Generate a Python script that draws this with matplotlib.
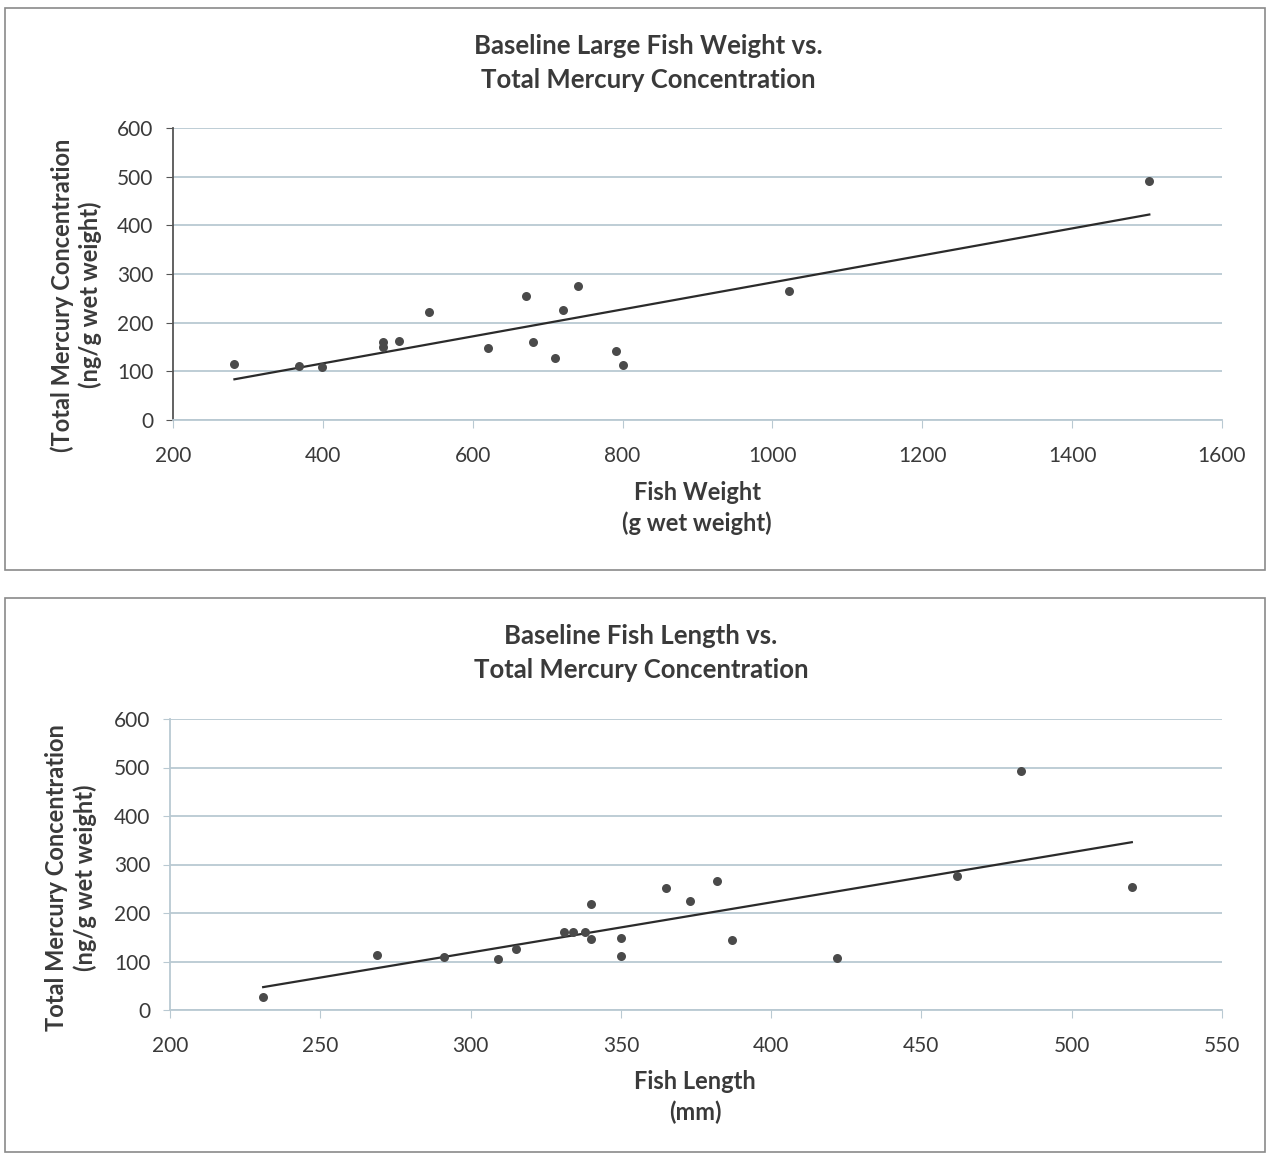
import matplotlib
matplotlib.use("Agg")
import matplotlib.pyplot as plt
import numpy as np
from matplotlib.patches import Rectangle

# Baseline large fish: weight (g) vs total mercury (ng/g wet weight)
weight_g = [282, 368, 399, 480, 480, 502, 542, 621, 671, 681, 710, 720, 741, 791, 801, 1022, 1503]
weight_hg = [115, 110, 108, 161, 150, 162, 221, 148, 254, 161, 127, 226, 275, 142, 113, 265, 492]

# Baseline fish: length (mm) vs total mercury
length_mm = [231, 269, 291, 309, 315, 331, 334, 338, 340, 340, 350, 350, 365, 373, 382, 387, 422, 462, 483, 520]
length_hg = [26, 114, 110, 106, 126, 160, 160, 160, 219, 146, 148, 112, 251, 224, 265, 145, 108, 276, 493, 254]

W, H = 1269, 1158
plt.rcParams['font.family'] = ['Lato', 'DejaVu Sans']
txt = '#3a3a3a'
grid_c = '#b9c9d2'

fig = plt.figure(figsize=(W / 100, H / 100), dpi=100)
fig.patch.set_facecolor('white')

# panel frames
for (x0, y0, x1, y1) in [(5, 8, 1265, 570), (5, 598, 1265, 1152)]:
    fig.add_artist(Rectangle((x0 / W, 1 - y1 / H), (x1 - x0) / W, (y1 - y0) / H,
                             transform=fig.transFigure, fill=False,
                             edgecolor='#8a8a8a', lw=1.2))


def style_axes(ax, xlim, xstep, left_col):
    ax.set_xlim(*xlim)
    ax.set_ylim(0, 600)
    ax.set_xticks(np.arange(xlim[0], xlim[1] + 1, xstep))
    ax.set_yticks(np.arange(0, 601, 100))
    ax.grid(axis='y', color=grid_c, lw=1.3)
    ax.set_axisbelow(True)
    for s in ['top', 'right']:
        ax.spines[s].set_visible(False)
    ax.spines['bottom'].set_color(grid_c)
    ax.spines['bottom'].set_linewidth(1.3)
    ax.spines['left'].set_color(left_col)
    ax.spines['left'].set_linewidth(1.3)
    ax.tick_params(axis='x', direction='out', length=6, color=grid_c, pad=13,
                   labelsize=15, labelcolor=txt)
    ax.tick_params(axis='y', direction='out', length=5, color=left_col, pad=9,
                   labelsize=15, labelcolor=txt)


def scatter_trend(ax, x, y):
    x = np.array(x, dtype=float)
    y = np.array(y, dtype=float)
    ax.scatter(x, y, s=42, color='#4a4a4a', zorder=3, linewidths=0)
    k, b = np.polyfit(x, y, 1)
    xs = np.array([x.min(), x.max()])
    ax.plot(xs, k * xs + b, color='#2b2b2b', lw=1.6, zorder=2)


# top chart
ax1 = fig.add_axes([173 / W, 1 - 420 / H, (1222 - 173) / W, 292 / H])
style_axes(ax1, (200, 1600), 200, '#555555')
scatter_trend(ax1, weight_g, weight_hg)
fig.text(648 / W, 1 - 63 / H, 'Baseline Large Fish Weight vs.\nTotal Mercury Concentration',
         ha='center', va='center', fontsize=18.5, fontweight='bold', color=txt,
         linespacing=1.45)
fig.text(697 / W, 1 - 508 / H, 'Fish Weight\n(g wet weight)', ha='center', va='center',
         fontsize=17, fontweight='bold', color=txt, linespacing=1.4)
fig.text(76 / W, 1 - 295 / H, '(Total Mercury Concentration\n(ng/g wet weight)',
         ha='center', va='center', rotation=90, fontsize=17, fontweight='bold',
         color=txt, linespacing=1.25)

# bottom chart
ax2 = fig.add_axes([170 / W, 1 - 1010 / H, (1222 - 170) / W, 291 / H])
style_axes(ax2, (200, 550), 50, grid_c)
scatter_trend(ax2, length_mm, length_hg)
fig.text(641 / W, 1 - 653 / H, 'Baseline Fish Length vs.\nTotal Mercury Concentration',
         ha='center', va='center', fontsize=18.5, fontweight='bold', color=txt,
         linespacing=1.45)
fig.text(695 / W, 1 - 1097 / H, 'Fish Length\n(mm)', ha='center', va='center',
         fontsize=17, fontweight='bold', color=txt, linespacing=1.4)
fig.text(71 / W, 1 - 878 / H, 'Total Mercury Concentration\n(ng/g wet weight)',
         ha='center', va='center', rotation=90, fontsize=17, fontweight='bold',
         color=txt, linespacing=1.25)

fig.savefig('out.png', dpi=100, facecolor='white')
plt.close(fig)
